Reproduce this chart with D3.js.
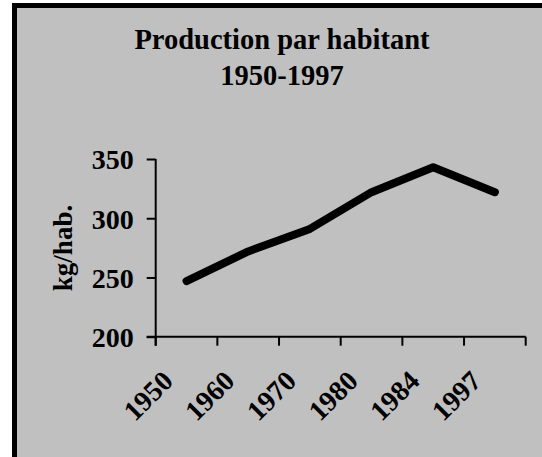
<!DOCTYPE html>
<html>
<head>
<meta charset="utf-8">
<script src="https://cdn.jsdelivr.net/npm/d3@7"></script>
<style>
  html, body { margin: 0; padding: 0; background: #ffffff; }
  svg { display: block; }
  text { font-family: "Liberation Serif", "Times New Roman", serif; font-weight: bold; fill: #000; }
</style>
</head>
<body>
<svg id="chart" width="542" height="457"></svg>
<script>
const categories = ["1950", "1960", "1970", "1980", "1984", "1997"];
const values = [247, 272, 291, 322, 343, 322];
const yTicks = [200, 250, 300, 350];
const titleLines = ["Production par habitant", "1950-1997"];
const yLabel = "kg/hab.";

(function () {
const svg = d3.select("#chart");

// frame
svg.append("rect")
  .attr("x", 14.5).attr("y", 5.5)
  .attr("width", 545).attr("height", 455)
  .attr("fill", "#C0C0C0")
  .attr("stroke", "#000").attr("stroke-width", 5);

const pLeft = 155.7, pRight = 525.7, pTop = 159, pBottom = 336.7;

const x = d3.scaleBand().domain(categories).range([pLeft, pRight]);
const y = d3.scaleLinear().domain([200, 350]).range([pBottom, pTop]);

// title
svg.append("text")
  .attr("x", 282).attr("y", 49)
  .attr("text-anchor", "middle")
  .style("font-size", "28.5px")
  .text(titleLines[0]);
svg.append("text")
  .attr("x", 282).attr("y", 85)
  .attr("text-anchor", "middle")
  .style("font-size", "28.5px")
  .text(titleLines[1]);

// y axis
const yAxis = d3.axisLeft(y).tickValues(yTicks).tickSize(9).tickPadding(13).tickFormat(d3.format("d"));
const gy = svg.append("g").attr("transform", `translate(${pLeft},0)`).call(yAxis);
gy.select(".domain").remove();
gy.selectAll("line").attr("stroke", "#000").attr("stroke-width", 2);
gy.selectAll("text").style("font-size", "28px").style("font-family", "Liberation Serif").style("font-weight", "bold").attr("dy", "0.35em");
svg.append("line")
  .attr("x1", pLeft).attr("x2", pLeft)
  .attr("y1", pTop).attr("y2", pBottom + 9)
  .attr("stroke", "#000").attr("stroke-width", 2);

// x axis (ticks on category boundaries)
const boundaries = categories.map(c => x(c)).concat([x(categories[categories.length - 1]) + x.bandwidth()]);
svg.append("line")
  .attr("x1", pLeft - 9).attr("x2", pRight)
  .attr("y1", pBottom).attr("y2", pBottom)
  .attr("stroke", "#000").attr("stroke-width", 2);
svg.selectAll(".xtick").data(boundaries).enter().append("line")
  .attr("class", "xtick")
  .attr("x1", d => d).attr("x2", d => d)
  .attr("y1", pBottom).attr("y2", pBottom + 9)
  .attr("stroke", "#000").attr("stroke-width", 2);

svg.selectAll(".xlabel").data(categories).enter().append("text")
  .attr("class", "xlabel")
  .attr("text-anchor", "end")
  .style("font-size", "28px")
  .attr("transform", d => `translate(${x(d) + x.bandwidth() / 2 - 12},${pBottom + 46}) rotate(-45)`)
  .text(d => d);

// y label
svg.append("text")
  .attr("text-anchor", "middle")
  .style("font-size", "27px")
  .attr("transform", `translate(72,248) rotate(-90)`)
  .text(yLabel);

// line
const line = d3.line()
  .x((d, i) => x(categories[i]) + x.bandwidth() / 2)
  .y(d => y(d));
svg.append("path")
  .datum(values)
  .attr("d", line)
  .attr("fill", "none")
  .attr("stroke", "#000")
  .attr("stroke-width", 8)
  .attr("stroke-linejoin", "round")
  .attr("stroke-linecap", "round");
})();
</script>
</body>
</html>
